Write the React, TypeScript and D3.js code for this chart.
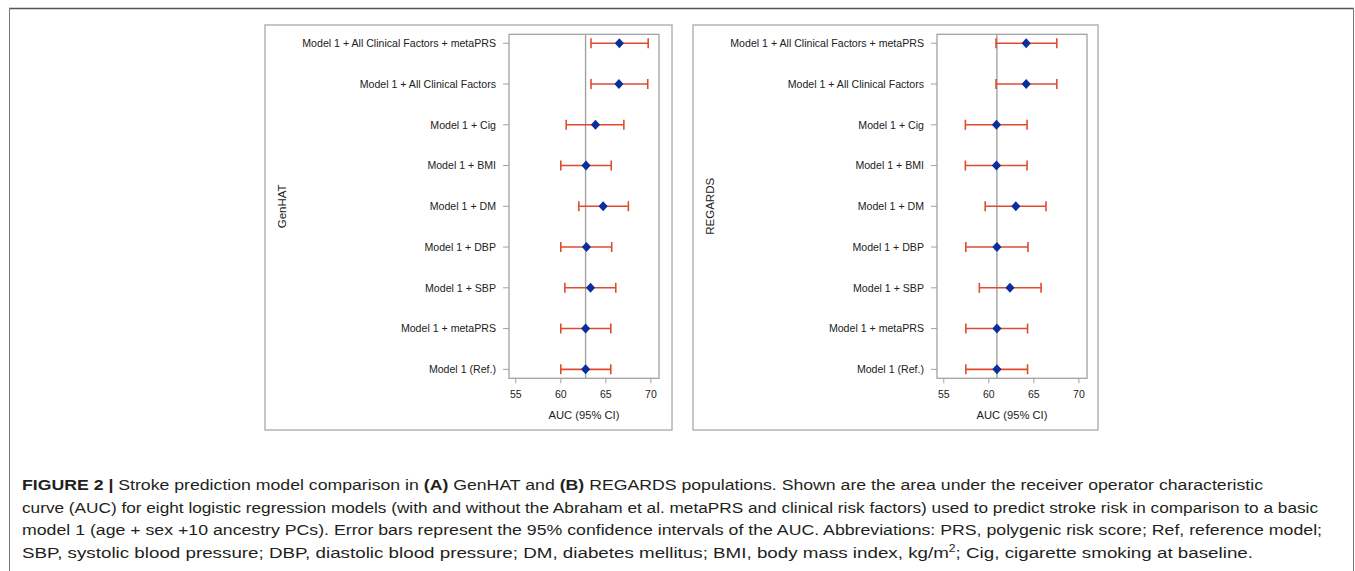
import React from "react";
import * as d3 from "d3";

const categories = [
  "Model 1 + All Clinical Factors + metaPRS",
  "Model 1 + All Clinical Factors",
  "Model 1 + Cig",
  "Model 1 + BMI",
  "Model 1 + DM",
  "Model 1 + DBP",
  "Model 1 + SBP",
  "Model 1 + metaPRS",
  "Model 1 (Ref.)",
];

const genhatAuc = [66.5, 66.45, 63.85, 62.8, 64.7, 62.85, 63.3, 62.75, 62.75];
const genhatLow = [63.35, 63.35, 60.6, 60.0, 62.0, 60.0, 60.45, 60.0, 60.0];
const genhatHigh = [69.7, 69.65, 67.0, 65.6, 67.5, 65.65, 66.1, 65.55, 65.55];

const regardsAuc = [64.15, 64.15, 60.85, 60.85, 63.0, 60.9, 62.35, 60.9, 60.9];
const regardsLow = [60.8, 60.8, 57.4, 57.4, 59.6, 57.45, 58.95, 57.45, 57.45];
const regardsHigh = [67.55, 67.55, 64.25, 64.25, 66.35, 64.35, 65.8, 64.3, 64.3];

const xTicks = [55, 60, 65, 70];
const xDomain = [54.25, 70.9];

const FONT = "'Liberation Sans', Arial, sans-serif";
const BAR = "#e04b2f";
const MARK = "#0a2f9a";
const FRAME = "#a2a2a2";

type PanelProps = {
  left: number;
  width: number;
  title: string;
  auc: number[];
  low: number[];
  high: number[];
};

function Panel({ left, width, title, auc, low, high }: PanelProps) {
  const top = 25;
  const bottom = 430;
  const plotL = left + 244;
  const plotR = plotL + 150;
  const plotT = 34.3;
  const plotB = 378.3;
  const x = d3.scaleLinear().domain(xDomain).range([plotL, plotR]);
  const y = d3.scalePoint<string>().domain(categories).range([plotT, plotB]).padding(0.22);
  const ref = auc[auc.length - 1];
  return (
    <g>
      <rect x={left} y={top} width={width} height={bottom - top} fill="white" stroke="#b4b4b4" strokeWidth={1.5} />
      <line x1={x(ref)} x2={x(ref)} y1={plotT} y2={plotB} stroke={FRAME} strokeWidth={1.4} />
      <rect x={plotL} y={plotT} width={plotR - plotL} height={plotB - plotT} fill="none" stroke={FRAME} strokeWidth={1.3} />
      {categories.map((c, i) => {
        const yy = y(c)!;
        const x0 = x(low[i]);
        const x1 = x(high[i]);
        const xp = x(auc[i]);
        return (
          <g key={c}>
            <line x1={plotL - 6} x2={plotL} y1={yy} y2={yy} stroke={FRAME} strokeWidth={1} />
            <text x={plotL - 13} y={yy + 3.8} textAnchor="end" fontFamily={FONT} fontSize={10.6} fill="#222">
              {c}
            </text>
            <line x1={x0} x2={x1} y1={yy} y2={yy} stroke={BAR} strokeWidth={1.6} />
            <line x1={x0} x2={x0} y1={yy - 5} y2={yy + 5} stroke={BAR} strokeWidth={1.6} />
            <line x1={x1} x2={x1} y1={yy - 5} y2={yy + 5} stroke={BAR} strokeWidth={1.6} />
            <path d={`M${xp},${yy - 5}L${xp + 4.6},${yy}L${xp},${yy + 5}L${xp - 4.6},${yy}Z`} fill={MARK} />
          </g>
        );
      })}
      {xTicks.map((t) => (
        <g key={t}>
          <line x1={x(t)} x2={x(t)} y1={plotB} y2={plotB + 5} stroke={FRAME} strokeWidth={1} />
          <text x={x(t)} y={398} textAnchor="middle" fontFamily={FONT} fontSize={10.5} fill="#222">
            {t}
          </text>
        </g>
      ))}
      <text x={(plotL + plotR) / 2} y={418.5} textAnchor="middle" fontFamily={FONT} fontSize={11.2} fill="#222">
        AUC (95% CI)
      </text>
      <text
        transform={`translate(${left + 21},${(plotT + plotB) / 2}) rotate(-90)`}
        textAnchor="middle"
        fontFamily={FONT}
        fontSize={11.5}
        fill="#222"
      >
        {title}
      </text>
    </g>
  );
}

const CAP_FONT = "'Liberation Sans Narrow', 'Liberation Sans', Arial, sans-serif";

export default function App() {
  const capX = 22;
  const capStyle = { fontFamily: CAP_FONT, fontSize: 15.5, fill: "#231f20" } as any;
  return (
    <svg width={1355} height={571} style={{ position: "absolute", left: 0, top: 0, background: "white" }}>
      <rect x={0} y={0} width={1355} height={571} fill="white" />
      <line x1={9} x2={1354} y1={8.5} y2={8.5} stroke="#555" strokeWidth={1.6} />
      <line x1={9.5} x2={9.5} y1={8} y2={571} stroke="#777" strokeWidth={1} />
      <line x1={1353.5} x2={1353.5} y1={8} y2={571} stroke="#777" strokeWidth={1} />
      <Panel left={265} width={407} title="GenHAT" auc={genhatAuc} low={genhatLow} high={genhatHigh} />
      <Panel left={693} width={405} title="REGARDS" auc={regardsAuc} low={regardsLow} high={regardsHigh} />
      <text x={capX} y={490} textLength={1263 - capX} lengthAdjust="spacingAndGlyphs" {...capStyle}>
        <tspan fontWeight="bold">FIGURE 2 |</tspan> Stroke prediction model comparison in <tspan fontWeight="bold">(A)</tspan> GenHAT and{" "}
        <tspan fontWeight="bold">(B)</tspan> REGARDS populations. Shown are the area under the receiver operator characteristic
      </text>
      <text x={capX} y={512.5} textLength={1318 - capX} lengthAdjust="spacingAndGlyphs" {...capStyle}>
        curve (AUC) for eight logistic regression models (with and without the Abraham et al. metaPRS and clinical risk factors) used to predict stroke risk in comparison to a basic
      </text>
      <text x={capX} y={535} textLength={1322 - capX} lengthAdjust="spacingAndGlyphs" {...capStyle}>
        model 1 (age + sex +10 ancestry PCs). Error bars represent the 95% confidence intervals of the AUC. Abbreviations: PRS, polygenic risk score; Ref, reference model;
      </text>
      <text x={capX} y={557.5} textLength={1253 - capX} lengthAdjust="spacingAndGlyphs" {...capStyle}>
        SBP, systolic blood pressure; DBP, diastolic blood pressure; DM, diabetes mellitus; BMI, body mass index, kg/m
        <tspan fontSize={10} dy={-6}>2</tspan>
        <tspan dy={6}>; Cig, cigarette smoking at baseline.</tspan>
      </text>
    </svg>
  );
}
